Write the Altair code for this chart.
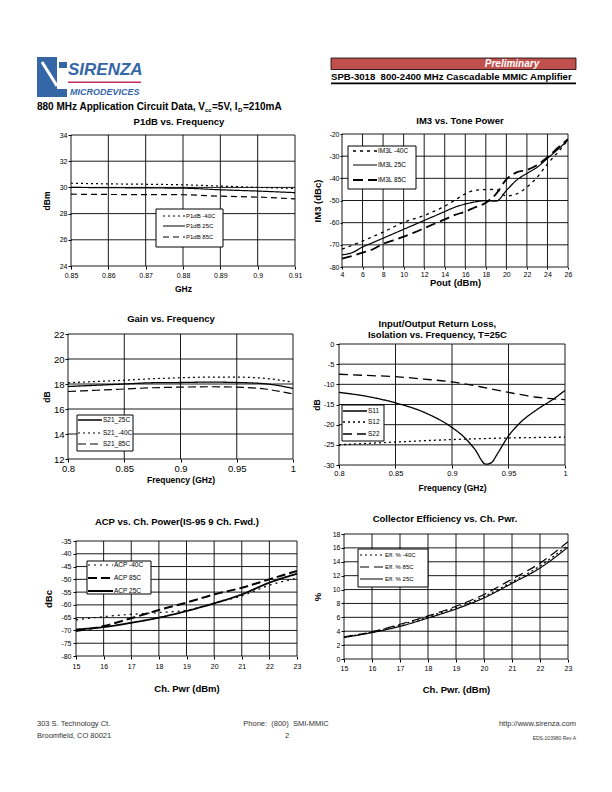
import altair as alt
import pandas as pd

FONT = "Liberation Sans"
ONE = pd.DataFrame({"k": [0]})

# ---------------- data ----------------
p1_freq = [0.85, 0.86, 0.87, 0.88, 0.89, 0.90, 0.91]
p1_m40 = [30.32, 30.27, 30.24, 30.20, 30.10, 30.00, 29.92]
p1_r25 = [30.00, 29.98, 29.96, 29.94, 29.82, 29.72, 29.60]
p1_h85 = [29.48, 29.46, 29.45, 29.44, 29.33, 29.26, 29.12]
p1_names = ["P1dB -40C", "P1dB 25C", "P1dB 85C"]

im3_pout = [4, 5, 6, 7, 8, 9, 10, 11, 12, 13, 14, 15, 16, 17, 18, 19, 20, 21, 22, 23, 24, 25, 26]
im3_m40 = [-72.0, -70.2, -68.3, -66.3, -64.3, -62.0, -59.8, -58.3, -56.8, -54.8, -52.6, -49.8, -47.0, -45.3,
           -45.1, -45.0, -48.0, -47.0, -44.0, -39.5, -33.5, -28.3, -22.8]
im3_r25 = [-74.5, -73.5, -71.0, -69.0, -67.0, -65.0, -63.0, -61.0, -59.0, -57.0, -55.0, -53.0, -51.6, -50.6,
           -50.1, -50.3, -45.5, -40.8, -37.8, -35.0, -31.0, -27.0, -22.7]
im3_h85 = [-76.2, -75.0, -73.5, -72.0, -69.5, -68.0, -66.3, -64.5, -62.5, -60.5, -58.5, -56.5, -55.0, -53.0,
           -51.0, -47.0, -40.5, -37.3, -36.2, -34.0, -30.5, -26.3, -22.3]
im3_names = ["IM3L -40C", "IM3L 25C", "IM3L 85C"]

g_freq = [0.80, 0.825, 0.85, 0.875, 0.90, 0.925, 0.95, 0.975, 1.00]
g_r25 = [17.80, 17.90, 18.00, 18.10, 18.12, 18.15, 18.12, 18.02, 17.65]
g_m40 = [18.10, 18.20, 18.30, 18.42, 18.50, 18.55, 18.55, 18.45, 18.15]
g_h85 = [17.40, 17.50, 17.60, 17.70, 17.75, 17.78, 17.75, 17.60, 17.20]
g_names = ["S21_25C", "S21_-40C", "S21_85C"]

s11_freq = [0.80, 0.825, 0.85, 0.875, 0.90, 0.91, 0.92, 0.93, 0.935, 0.94, 0.95, 0.96, 0.975, 0.99, 1.00]
s11_db = [-12.0, -13.0, -14.6, -16.9, -20.7, -22.9, -26.0, -29.8, -29.4, -27.3, -22.8, -19.6, -16.3, -13.6, -11.5]
s12_freq = [0.80, 0.85, 0.90, 0.95, 1.00]
s12_db = [-25.0, -24.3, -23.7, -23.3, -23.1]
s22_freq = [0.80, 0.825, 0.85, 0.875, 0.90, 0.925, 0.95, 0.975, 1.00]
s22_db = [-7.5, -7.8, -8.1, -8.7, -9.4, -10.6, -12.0, -13.2, -13.8]
rl_names = ["S11", "S12", "S22"]

acp_pwr = [15, 16, 17, 18, 19, 20, 21, 22, 23]
acp_m40 = [-65.9, -64.6, -63.7, -63.0, -62.1, -59.3, -56.5, -52.3, -49.6]
acp_h85 = [-70.2, -68.3, -65.2, -62.0, -59.1, -55.9, -53.3, -50.0, -46.7]
acp_r25 = [-69.6, -68.7, -67.0, -65.0, -62.4, -59.4, -55.9, -51.3, -47.8]
acp_names = ["ACP -40C", "ACP 85C", "ACP 25C"]

eff_pwr = [15, 16, 17, 18, 19, 20, 21, 22, 23]
eff_m40 = [3.15, 3.9, 4.9, 6.1, 7.4, 9.0, 11.1, 13.4, 16.4]
eff_h85 = [3.2, 3.9, 5.0, 6.2, 7.6, 9.3, 11.5, 13.8, 16.9]
eff_r25 = [3.1, 3.8, 4.7, 5.9, 7.2, 8.8, 10.9, 13.1, 16.1]
eff_names = ["Eff. % -40C", "Eff. % 85C", "Eff. % 25C"]

DOT = [2, 3]
SOLID = [1, 0]
GRIDW = 0.9


def legend_layers(box, names, ys, dashes, widths, rule_x, label_x, size, dx, dy):
    x1, y1, x2, y2 = box
    out = [alt.Chart(ONE).mark_rect(fill="white", stroke="black", strokeWidth=1).encode(
        x=alt.value(x1 + dx), x2=alt.value(x2 + dx), y=alt.value(y1 + dy), y2=alt.value(y2 + dy))]
    for name, y, d, sw in zip(names, ys, dashes, widths):
        out.append(alt.Chart(ONE).mark_rule(color="black", strokeDash=d, strokeWidth=sw).encode(
            x=alt.value(rule_x[0] + dx), x2=alt.value(rule_x[1] + dx), y=alt.value(y + dy)))
        out.append(alt.Chart(ONE).mark_text(text=name, font=FONT, fontSize=size, color="black",
                                            align="left", baseline="middle").encode(
            x=alt.value(label_x + dx), y=alt.value(y + dy)))
    return out


def panel(series, names, dashes, widths, w, h, xdom, xvals, ydom, yvals, title, t_off, t_dx,
          xtitle, ytitle, xt_y, yt_x, lab, tick, xpad, ypad, tsize, leg, dx=0, dy=0):
    common = dict(grid=False, domain=False, tickColor="black", tickSize=tick, labelColor="black",
                  labelFont=FONT, labelFontSize=lab, labelFlush=False, labelOverlap=False,
                  titleFont=FONT, titleFontWeight="bold", titleColor="black", titleFontSize=tsize,
                  labelExpr="toString(datum.value)", titleBaseline="middle", titleAlign="center")
    xaxis = alt.Axis(values=xvals, title=xtitle, labelPadding=xpad, titleX=dx + w / 2, titleY=xt_y, **common)
    ykw = dict(values=yvals, title=ytitle, labelPadding=ypad, titleX=yt_x, titleY=dy + h / 2, titleAngle=270)
    if dx:
        ykw["offset"] = -dx
    yaxis = alt.Axis(**ykw, **common)
    X = alt.X("x:Q", scale=alt.Scale(domain=xdom, range=[dx, dx + w], nice=False, zero=False), axis=xaxis)
    Y = alt.Y("y:Q", scale=alt.Scale(domain=ydom, range=[dy + h, dy], nice=False, zero=False), axis=yaxis)
    vgrid = alt.Chart(pd.DataFrame({"x": xvals})).mark_rule(color="black", strokeWidth=GRIDW).encode(
        x=X, y=alt.value(dy), y2=alt.value(dy + h))
    hgrid = alt.Chart(pd.DataFrame({"y": yvals})).mark_rule(color="black", strokeWidth=GRIDW).encode(
        y=Y, x=alt.value(dx), x2=alt.value(dx + w))
    lines = []
    for (name, xs, ys), d, sw in zip(series, dashes, widths):
        df = pd.DataFrame({"x": xs, "y": ys, "s": name})
        lines.append(alt.Chart(df).mark_line(color="black", clip=True, interpolate="monotone",
                                             strokeDash=d, strokeWidth=sw).encode(x=X, y=Y))
    box, ys_, rule_x, label_x, lsize = leg
    layers = [vgrid, hgrid] + lines + legend_layers(box, names, ys_, dashes, widths, rule_x, label_x, lsize, dx, dy)
    return alt.layer(*layers).properties(
        width=dx + w, height=dy + h,
        title=alt.TitleParams(text=title, font=FONT, fontSize=9.5, fontWeight="bold", color="black",
                              anchor="middle", frame="group", offset=t_off - dy, dx=t_dx + dx / 2,
                              lineHeight=11.6))


p1 = panel([(p1_names[0], p1_freq, p1_m40), (p1_names[1], p1_freq, p1_r25), (p1_names[2], p1_freq, p1_h85)],
           p1_names, [DOT, SOLID, [6, 4]], [1.2, 1.2, 1.2], 224, 131, [0.85, 0.91],
           [0.85, 0.86, 0.87, 0.88, 0.89, 0.90, 0.91], [24, 34], [24, 26, 28, 30, 32, 34],
           "P1dB vs. Frequency", 6, -4, "GHz", "dBm", 22, -25, 7, 3, 2, 1, 8.5,
           ((85, 74, 152, 112), [81, 91, 102], (92, 114), 115, 6), dx=3, dy=1)

im3 = panel([(im3_names[0], im3_pout, im3_m40), (im3_names[1], im3_pout, im3_r25), (im3_names[2], im3_pout, im3_h85)],
            im3_names, [[3, 4], SOLID, [10, 5]], [1.3, 1.2, 1.8], 226, 133, [4, 26],
            [4, 6, 8, 10, 12, 14, 16, 18, 20, 22, 24, 26], [-80, -20], [-80, -70, -60, -50, -40, -30, -20],
            "IM3 vs. Tone Power", 5, 5, "Pout (dBm)", "IM3 (dBc)", 15, -25, 7, 2, 1, 1, 9.5,
            ((6, 12, 74, 55), [17, 31, 46], (11, 35), 36, 6.5), dx=3, dy=0)

gain = panel([(g_names[0], g_freq, g_r25), (g_names[1], g_freq, g_m40), (g_names[2], g_freq, g_h85)],
             g_names, [SOLID, DOT, [8, 4]], [1.3, 1.2, 1.2], 225, 125, [0.8, 1.0],
             [0.8, 0.85, 0.9, 0.95, 1.0], [12, 22], [12, 14, 16, 18, 20, 22],
             "Gain vs. Frequency", 5.5, -9.5, "Frequency (GHz)", "dB", 20, -22, 9.5, 3, 1, 1, 8.5,
             ((9, 81, 65, 117), [86, 99, 110], (10, 34), 35, 6.5), dx=0, dy=0)

rl = panel([(rl_names[0], s11_freq, s11_db), (rl_names[1], s12_freq, s12_db), (rl_names[2], s22_freq, s22_db)],
           rl_names, [SOLID, DOT, [9, 5]], [1.3, 1.3, 1.3], 226, 121, [0.8, 1.0],
           [0.8, 0.85, 0.9, 0.95, 1.0], [-30, 0], [-30, -25, -20, -15, -10, -5, 0],
           ["Input/Output Return Loss,", "Isolation vs. Frequency, T=25C"], 4, -14.6,
           "Frequency (GHz)", "dB", 22, -23, 7.5, 3, 1, 2, 8.5,
           ((3, 61, 45, 97), [67, 78, 90], (4, 28), 29, 6.5), dx=0, dy=10)

acp = panel([(acp_names[0], acp_pwr, acp_m40), (acp_names[1], acp_pwr, acp_h85), (acp_names[2], acp_pwr, acp_r25)],
            acp_names, [[2, 4], [9, 4], SOLID], [1.2, 2.0, 1.8], 221, 115, [15, 23],
            [15, 16, 17, 18, 19, 20, 21, 22, 23], [-80, -35],
            [-80, -75, -70, -65, -60, -55, -50, -45, -40, -35],
            "ACP vs. Ch. Power(IS-95 9 Ch. Fwd.)", 15, -9.6, "Ch. Pwr (dBm)", "dBc", 32, -28, 7, 3, 3, 2, 9.5,
            ((11, 20, 75, 53), [24, 37, 50], (12, 37), 38, 6.5), dx=8, dy=7)

eff = panel([(eff_names[0], eff_pwr, eff_m40), (eff_names[1], eff_pwr, eff_h85), (eff_names[2], eff_pwr, eff_r25)],
            eff_names, [DOT, [9, 5], SOLID], [1.2, 1.2, 1.2], 224, 125, [15, 23],
            [15, 16, 17, 18, 19, 20, 21, 22, 23], [0, 18], [0, 2, 4, 6, 8, 10, 12, 14, 16, 18],
            "Collector Efficiency vs. Ch. Pwr.", 7, -11, "Ch. Pwr. (dBm)", "%", 30, -27, 7, 3, 2, 1, 9.5,
            ((14, 15, 84, 53), [21, 33, 45], (16, 39), 41, 6), dx=5, dy=0)


# ---------------- header / footer decorations ----------------
def txt(s, x, y, size, weight="normal", style="normal", color="black", align="left", font=FONT):
    return alt.Chart(ONE).mark_text(text=s, font=font, fontSize=size, fontWeight=weight, fontStyle=style,
                                    color=color, align=align, baseline="middle").encode(
        x=alt.value(x), y=alt.value(y))


def box(x1, y1, x2, y2, fill, stroke=None, sw=1):
    kw = dict(fill=fill)
    if stroke:
        kw.update(stroke=stroke, strokeWidth=sw)
    return alt.Chart(ONE).mark_rect(**kw).encode(x=alt.value(x1), x2=alt.value(x2), y=alt.value(y1),
                                                 y2=alt.value(y2))


def seg(x1, y1, x2, y2, color, sw):
    return alt.Chart(ONE).mark_rule(color=color, strokeWidth=sw).encode(
        x=alt.value(x1), y=alt.value(y1), x2=alt.value(x2), y2=alt.value(y2))


NB = "\u00a0"
BLUE = "#3566A6"
OX = 68  # page x of the left grid column
OY = 8   # page y of the header cell
hdr = [
    box(8 - OX, 8 - OY, 10 - OX, 10 - OY, "white"),  # page-corner anchor
    box(37 - OX, 54 - OY, 57 - OX, 94 - OY, BLUE),
    box(37 - OX, 86 - OY, 67 - OX, 94 - OY, BLUE),
    box(59 - OX, 59 - OY, 67 - OX, 65 - OY, BLUE),
    seg(42 - OX, 59 - OY, 57 - OX, 83 - OY, "white", 3),
    txt("SIRENZA", 68 - OX, 67 - OY, 17, "bold", "italic", BLUE),
    box(68 - OX, 78.5 - OY, 141 - OX, 80 - OY, "#C42E5A"),
    txt("MICRODEVICES", 70 - OX, 89 - OY, 9, "bold", "italic", BLUE),
    txt("880 MHz Application Circuit Data, V", 37 - OX, 104 - OY, 10, "bold"),
    txt("cc", 205 - OX, 107 - OY, 6, "bold"),
    txt("=5V, I", 212 - OX, 104 - OY, 10, "bold"),
    txt("D", 238 - OX, 107 - OY, 6, "bold"),
    txt("=210mA", 243 - OX, 104 - OY, 10, "bold"),
    box(331 - OX, 55 - OY, 576 - OX, 66.5 - OY, "#C0504D", "black", 0.8),
    txt("Preliminary", 512 - OX, 60.8 - OY, 10, "bold", "italic", "white", "center"),
    txt("SPB-3018" + NB + NB + "800-2400 MHz Cascadable MMIC Amplifier", 331 - OX, 73.5 - OY, 9.6, "bold"),
    box(331 - OX, 79.5 - OY, 576 - OX, 81.2 - OY, "black"),
]
header = alt.layer(*hdr).properties(width=271, height=123)

FY = 656
GRAY = "#333333"
ftr = [
    txt("303 S. Technology Ct.", 37 - OX, 721 - FY, 7.5, color=GRAY),
    txt("Broomfield, CO 80021", 37 - OX, 733 - FY, 7.5, color=GRAY),
    txt("Phone:" + NB + NB + "(800)" + NB + NB + "SMI-MMIC", 286 - OX, 721 - FY, 7.5, color=GRAY, align="center"),
    txt("2", 287 - OX, 733 - FY, 7.5, color=GRAY, align="center"),
    txt("http://www.sirenza.com", 576 - OX, 721 - FY, 7.5, color=GRAY, align="right"),
    txt("EDS-103980 Rev A", 576 - OX, 735 - FY, 5, color=GRAY, align="right"),
]
footer = alt.layer(*ftr).properties(width=1, height=90)


def sp(w, h):
    return alt.Chart(ONE).mark_point(opacity=0).properties(width=w, height=h)


# 2-column grid: left column at page x 68, right column at page x 339 (68 + 271)
cells = [
    header, sp(1, 1),      # page y 8..131
    p1, im3,               # row top 131
    sp(1, 67), sp(1, 1),   # gap
    gain, rl,              # row top 331
    sp(1, 69), sp(1, 1),   # gap
    acp, eff,              # row top 531
    footer, sp(1, 1),      # 656
]

chart = alt.concat(*cells, columns=2, align="each", bounds="flush", spacing=0).properties(
    padding=0, background="white").configure_view(stroke=None)

chart.save("out.html", embed_options={"renderer": "svg", "actions": False})
